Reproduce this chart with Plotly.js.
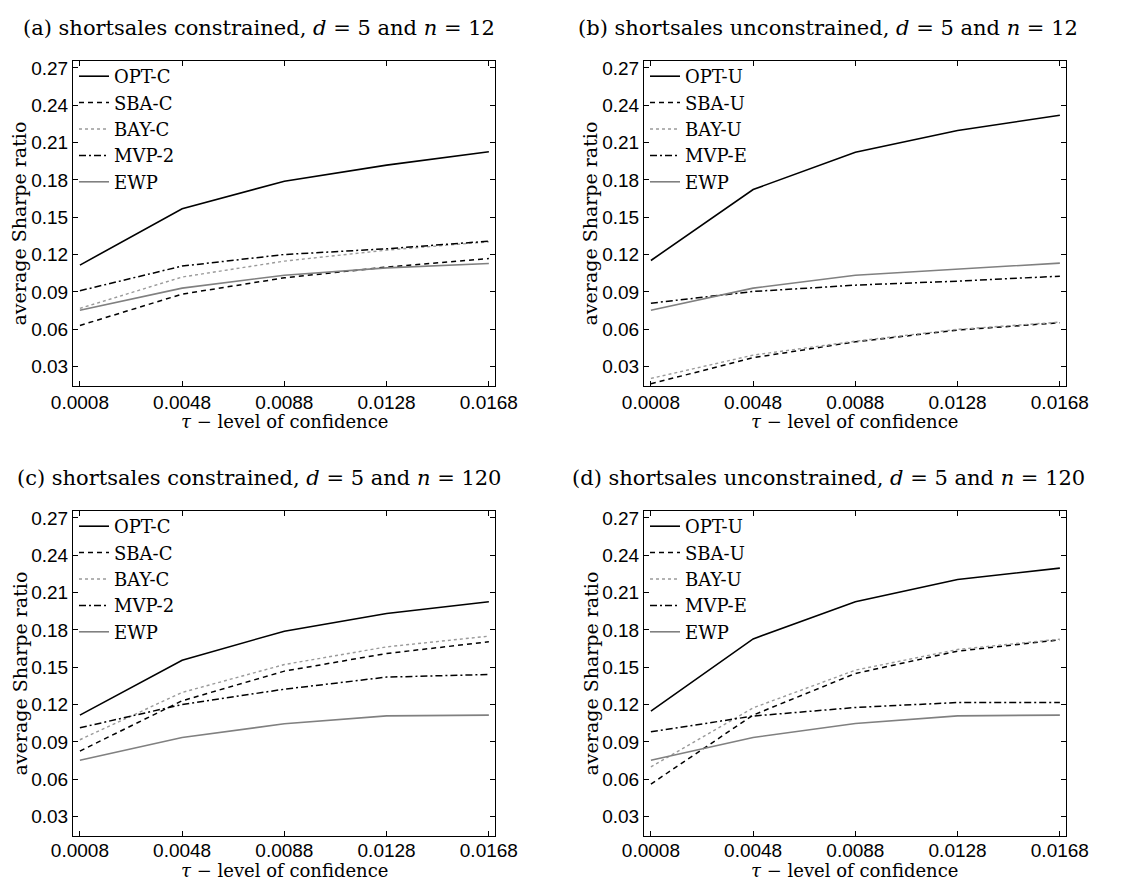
<!DOCTYPE html>
<html>
<head>
<meta charset="utf-8">
<script src="https://cdn.plot.ly/plotly-3.0.1.min.js"></script>
<style>html,body{margin:0;padding:0;background:#fff;}#chart{width:1144px;height:881px;}</style>
</head>
<body>
<div id="chart"></div>
<script>
const tau = [0.0008, 0.0048, 0.0088, 0.0128, 0.0168];
const tauTicks = ['0.0008', '0.0048', '0.0088', '0.0128', '0.0168'];
const yTicks = [0.03, 0.06, 0.09, 0.12, 0.15, 0.18, 0.21, 0.24, 0.27];
const yTickText = ['0.03', '0.06', '0.09', '0.12', '0.15', '0.18', '0.21', '0.24', '0.27'];

const panelTitles = [
  '(a) shortsales constrained, <i>d</i> = 5 and <i>n</i> = 12',
  '(b) shortsales unconstrained, <i>d</i> = 5 and <i>n</i> = 12',
  '(c) shortsales constrained, <i>d</i> = 5 and <i>n</i> = 120',
  '(d) shortsales unconstrained, <i>d</i> = 5 and <i>n</i> = 120'
];
const xTitle = '<i>τ</i> − level of confidence';
const yTitle = 'average Sharpe ratio';
const namesC = ['OPT-C', 'SBA-C', 'BAY-C', 'MVP-2', 'EWP'];
const namesU = ['OPT-U', 'SBA-U', 'BAY-U', 'MVP-E', 'EWP'];

// panel (a)
const a_opt = [0.1116, 0.1568, 0.1790, 0.1919, 0.2026];
const a_sba = [0.0631, 0.0883, 0.1014, 0.1100, 0.1169];
const a_bay = [0.0768, 0.1020, 0.1148, 0.1236, 0.1303];
const a_mvp = [0.0910, 0.1108, 0.1201, 0.1247, 0.1308];
const a_ewp = [0.0754, 0.0931, 0.1035, 0.1094, 0.1129];
// panel (b)
const b_opt = [0.1153, 0.1723, 0.2023, 0.2197, 0.2320];
const b_sba = [0.0163, 0.0372, 0.0500, 0.0594, 0.0653];
const b_bay = [0.0206, 0.0393, 0.0505, 0.0600, 0.0658];
const b_mvp = [0.0810, 0.0904, 0.0955, 0.0987, 0.1027];
const b_ewp = [0.0754, 0.0931, 0.1035, 0.1086, 0.1132];
// panel (c)
const c_opt = [0.1116, 0.1557, 0.1790, 0.1932, 0.2026];
const c_sba = [0.0827, 0.1231, 0.1469, 0.1611, 0.1704];
const c_bay = [0.0918, 0.1298, 0.1522, 0.1664, 0.1750];
const c_mvp = [0.1014, 0.1201, 0.1324, 0.1421, 0.1442];
const c_ewp = [0.0754, 0.0936, 0.1046, 0.1110, 0.1116];
// panel (d)
const d_opt = [0.1148, 0.1728, 0.2026, 0.2205, 0.2296];
const d_sba = [0.0562, 0.1116, 0.1450, 0.1630, 0.1720];
const d_bay = [0.0701, 0.1174, 0.1477, 0.1643, 0.1726];
const d_mvp = [0.0982, 0.1108, 0.1177, 0.1217, 0.1217];
const d_ewp = [0.0754, 0.0936, 0.1049, 0.1110, 0.1116];

const panels = [
  [a_opt, a_sba, a_bay, a_mvp, a_ewp],
  [b_opt, b_sba, b_bay, b_mvp, b_ewp],
  [c_opt, c_sba, c_bay, c_mvp, c_ewp],
  [d_opt, d_sba, d_bay, d_mvp, d_ewp]
];
const styles = [
  {color: '#000000', dash: 'solid', width: 1.6},
  {color: '#000000', dash: '5px,4px', width: 1.5},
  {color: '#9a9a9a', dash: 'dot', width: 1.4},
  {color: '#000000', dash: '7px,3px,2px,3px', width: 1.5},
  {color: '#808080', dash: 'solid', width: 1.6}
];

const W = 1144, H = 881;
const xDom = [[73 / W, 495 / W], [644 / W, 1066 / W]];
const yDom = [[1 - 386 / H, 1 - 61 / H], [1 - 836 / H, 1 - 511 / H]];
const titleY = [28, 478];
const titleX = [259, 828];
const xTitleY = [421, 870];
const tickStandoff = [-1, -3];
const yTitleX = [19, 590];

const serif = 'DejaVu Serif, Liberation Serif, serif';
const sans = 'Liberation Sans, Arial, sans-serif';

const traces = [];
const layout = {
  width: W, height: H,
  margin: {l: 0, r: 0, t: 0, b: 0},
  paper_bgcolor: '#ffffff', plot_bgcolor: '#ffffff',
  showlegend: true,
  annotations: []
};

for (let p = 0; p < 4; p++) {
  const col = p % 2, row = Math.floor(p / 2);
  const ax = p === 0 ? '' : String(p + 1);
  const legName = p === 0 ? 'legend' : 'legend' + (p + 1);
  const names = col === 0 ? namesC : namesU;
  panels[p].forEach((vals, i) => {
    traces.push({
      x: tau, y: vals, type: 'scatter', mode: 'lines', name: names[i],
      line: {color: styles[i].color, dash: styles[i].dash, width: styles[i].width},
      xaxis: 'x' + ax, yaxis: 'y' + ax, legend: legName, hoverinfo: 'skip'
    });
  });
  layout['xaxis' + ax] = {
    domain: xDom[col], anchor: 'y' + ax, range: [0.00053, 0.01704],
    tickvals: tau, ticktext: tauTicks, ticks: 'inside', ticklen: 5, tickwidth: 1, tickcolor: '#000',
    showline: true, linecolor: '#000', linewidth: 1, mirror: 'ticks', showgrid: false, zeroline: false,
    tickfont: {family: sans, size: 19, color: '#000'}, ticklabelstandoff: tickStandoff[row]
  };
  layout['yaxis' + ax] = {
    domain: yDom[row], anchor: 'x' + ax, range: [0.0145, 0.2755],
    tickvals: yTicks, ticktext: yTickText, ticks: 'inside', ticklen: 5, tickwidth: 1, tickcolor: '#000',
    showline: true, linecolor: '#000', linewidth: 1, mirror: 'ticks', showgrid: false, zeroline: false,
    tickfont: {family: sans, size: 19, color: '#000'}
  };
  layout[legName] = {
    x: xDom[col][0] + 1 / W, y: yDom[row][1] + 3 / H, xanchor: 'left', yanchor: 'top',
    bgcolor: 'rgba(0,0,0,0)', borderwidth: 0,
    font: {family: serif, size: 18, color: '#000'},
    tracegroupgap: 0, itemwidth: 30
  };
  layout.annotations.push({
    text: panelTitles[p], xref: 'paper', yref: 'paper',
    x: titleX[col] / W, y: 1 - titleY[row] / H,
    xanchor: 'center', yanchor: 'middle', showarrow: false,
    font: {family: serif, size: 21, color: '#000'}
  });
  layout.annotations.push({
    text: xTitle, xref: 'paper', yref: 'paper',
    x: (xDom[col][0] + xDom[col][1]) / 2, y: 1 - xTitleY[row] / H,
    xanchor: 'center', yanchor: 'middle', showarrow: false, borderpad: 0,
    font: {family: serif, size: 18, color: '#000'}
  });
  layout.annotations.push({
    text: yTitle, xref: 'paper', yref: 'paper', textangle: -90,
    x: yTitleX[col] / W, y: (yDom[row][0] + yDom[row][1]) / 2,
    xanchor: 'center', yanchor: 'middle', showarrow: false,
    font: {family: serif, size: 19, color: '#000'}
  });
}

Plotly.newPlot('chart', traces, layout, {staticPlot: true, displayModeBar: false});
</script>
</body>
</html>
